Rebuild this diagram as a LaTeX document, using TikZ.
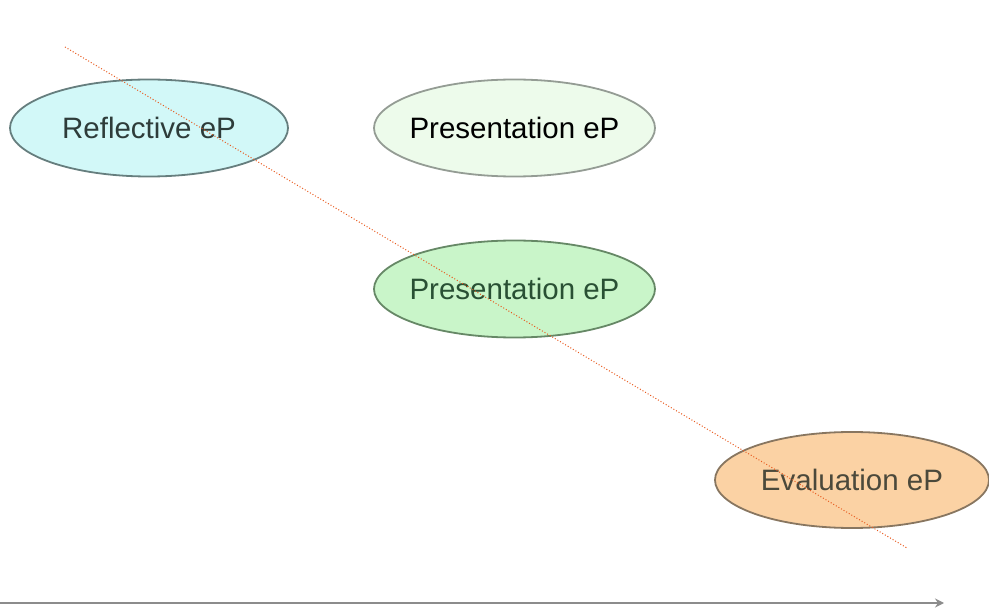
\documentclass[tikz,border=0pt]{standalone}
\usepackage{fontspec}
\setmainfont{Liberation Sans}
\usepackage{tikz}
\usetikzlibrary{shapes.geometric}
\usetikzlibrary{arrows.meta}
\definecolor{reflfill}{HTML}{D2F8F8}
\definecolor{refldraw}{HTML}{667E7E}
\definecolor{presfill}{HTML}{EDFBEB}
\definecolor{presdraw}{HTML}{949C94}
\definecolor{midfill}{HTML}{C9F5C9}
\definecolor{middraw}{HTML}{668866}
\definecolor{evalfill}{HTML}{FBD2A4}
\definecolor{evaldraw}{HTML}{887660}
\definecolor{blurtext}{HTML}{2E3C3A}
\definecolor{cutline}{HTML}{E85A1E}
\tikzset {
  % ellipse for each kind of eP
  main/.style = {ellipse, draw, line width=1.8pt, inner sep=0pt,
    minimum width=278pt, minimum height=97pt,
    font=\fontsize{29.5}{35}\selectfont},
  refl/.style={main, fill=reflfill, draw=refldraw, text=blurtext},
  pres/.style={main, fill=presfill, draw=presdraw, minimum width=281pt, text=black},
  mid/.style={main, fill=midfill, draw=middraw, minimum width=281pt, text=blurtext!90!green},
  eval/.style={main, fill=evalfill, draw=evaldraw, minimum width=274pt, minimum height=96pt, text=blurtext!80!brown},
  % time axis and the dotted trend line
  axis/.style={draw=gray!90, line width=2.6pt, -{Stealth[length=9pt,width=9pt]}},
  trend/.style={cutline, line width=1pt, dotted},
}

\begin{document}
\begin{tikzpicture}[x=1pt, y=-1pt]
  \useasboundingbox (0,0) rectangle (989,612);

  \node[refl] (1) at (149,128) {\makebox[0pt]{Reflective eP}};

  \node[pres] (2) at (514.5,128) {\makebox[0pt]{Presentation eP}};

  \node[mid] (3) at (514.5,289) {\makebox[0pt]{Presentation eP}};

  \node[eval] (4) at (852,480) {\makebox[0pt]{Evaluation eP}};

  \coordinate (s) at (65,47);
  \coordinate (t) at (907,548);
  \draw[trend] (s) -- (t);

  \coordinate (a) at (0,603);
  \coordinate (b) at (944,603);
  \draw[axis] (a) -- (b);
\end{tikzpicture}
\end{document}
